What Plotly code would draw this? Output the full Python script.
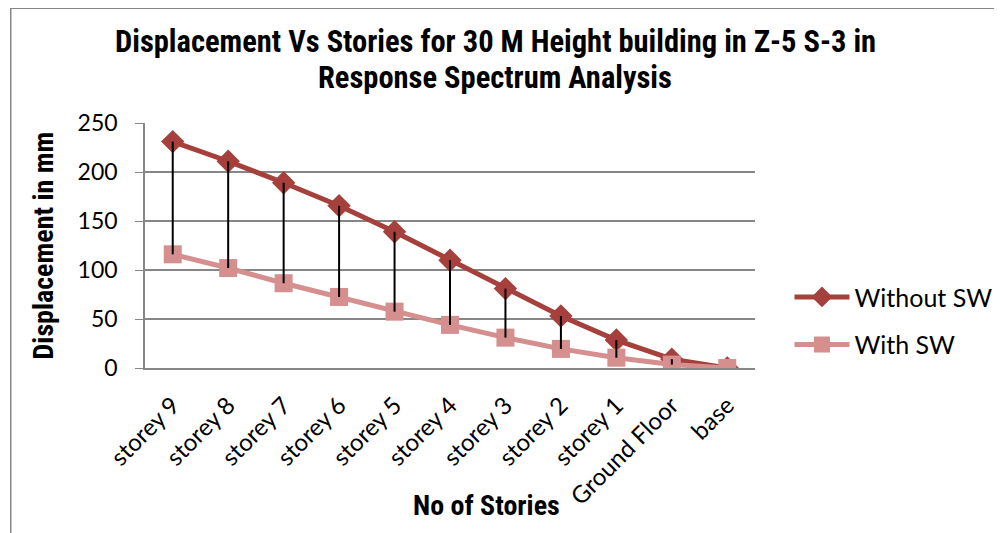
import plotly.graph_objects as go

categories = ["storey 9", "storey 8", "storey 7", "storey 6", "storey 5", "storey 4",
              "storey 3", "storey 2", "storey 1", "Ground Floor", "base"]
without_sw = [231, 211, 189, 165.5, 139, 110, 81, 53, 28.5, 9, 0]
with_sw = [116, 102, 86.5, 72.5, 57.5, 44, 31, 19.5, 10.5, 3.5, 0]
y_ticks = [0, 50, 100, 150, 200, 250]

BOLD_FONT = "Roboto Condensed, Liberation Sans Narrow, Arial Narrow, sans-serif"
FONT = "Lato, Carlito, Calibri, Open Sans, sans-serif"
C_WO = "#A5403D"
C_W = "#D48F8E"

# plot area in figure pixels
L, R, T, B = 137, 756, 115.3, 359.7
W_, H_ = R - L, B - T


def px(x):
    return (x - L) / W_


def py(y):
    return (B - y) / H_


fig = go.Figure()
fig.add_trace(go.Scatter(
    x=categories, y=without_sw, name="Without SW", mode="lines+markers",
    line=dict(color=C_WO, width=5), marker=dict(symbol="diamond", size=18, color=C_WO),
    legendgroup="a"))
fig.add_trace(go.Scatter(
    x=categories, y=with_sw, name="With SW", mode="lines+markers",
    line=dict(color=C_W, width=5), marker=dict(symbol="square", size=18, color=C_W),
    legendgroup="b"))

# high-low drop lines
dx, dy = [], []
for c, a, b in zip(categories, without_sw, with_sw):
    dx += [c, c, None]
    dy += [a, b, None]
fig.add_trace(go.Scatter(x=dx, y=dy, mode="lines", line=dict(color="black", width=2),
                         showlegend=False, hoverinfo="skip"))

fig.update_layout(
    width=1002, height=533,
    paper_bgcolor="white", plot_bgcolor="white",
    margin=dict(l=L, r=1002 - R, t=T, b=533 - B),
    font=dict(family=FONT, color="black", size=22),
    legend=dict(x=px(791), xanchor="left", y=py(312.5), yanchor="middle",
                font=dict(family=FONT, size=25, color="black"), tracegroupgap=12, itemwidth=55,
                bgcolor="rgba(0,0,0,0)"),
    showlegend=True,
)
fig.update_xaxes(type="category", range=[-0.5, len(categories) - 0.5], showgrid=False,
                 showline=True, linecolor="#868686", linewidth=1.5,
                 ticks="", tickangle=-45, ticklabelstandoff=12,
                 tickfont=dict(family=FONT, size=24, color="black"))
fig.update_yaxes(range=[0, 250], tickvals=y_ticks, showgrid=True, gridcolor="#868686", gridwidth=1.5,
                 showline=True, linecolor="#868686", linewidth=1.5, ticks="outside", ticklen=8,
                 tickcolor="#868686", zeroline=False, ticklabelstandoff=13,
                 tickfont=dict(family=FONT, size=23, color="black"))

fig.add_annotation(text="<b>Displacement Vs Stories for 30 M Height building in Z-5 S-3 in</b>",
                   xref="paper", yref="paper", x=px(492.5), y=py(34), xanchor="center", yanchor="middle",
                   showarrow=False, font=dict(family=BOLD_FONT, size=30.5, color="black"))
fig.add_annotation(text="<b>Response Spectrum Analysis</b>",
                   xref="paper", yref="paper", x=px(492.5), y=py(70), xanchor="center", yanchor="middle",
                   showarrow=False, font=dict(family=BOLD_FONT, size=30.5, color="black"))
fig.add_annotation(text="<b>Displacement in mm</b>", xref="paper", yref="paper",
                   x=px(35), y=py(237), xanchor="center", yanchor="middle",
                   textangle=-90, showarrow=False, font=dict(family=BOLD_FONT, size=28, color="black"))
fig.add_annotation(text="<b>No of Stories</b>", xref="paper", yref="paper",
                   x=px(484), y=py(497), xanchor="center", yanchor="middle",
                   showarrow=False, font=dict(family=BOLD_FONT, size=28, color="black"))

# outer chart frame
fig.add_shape(type="rect", xref="paper", yref="paper",
              x0=px(0.75), x1=px(1020), y0=py(560), y1=py(0.75),
              line=dict(color="#868686", width=1.5), layer="below")

fig.write_html("out.html")
